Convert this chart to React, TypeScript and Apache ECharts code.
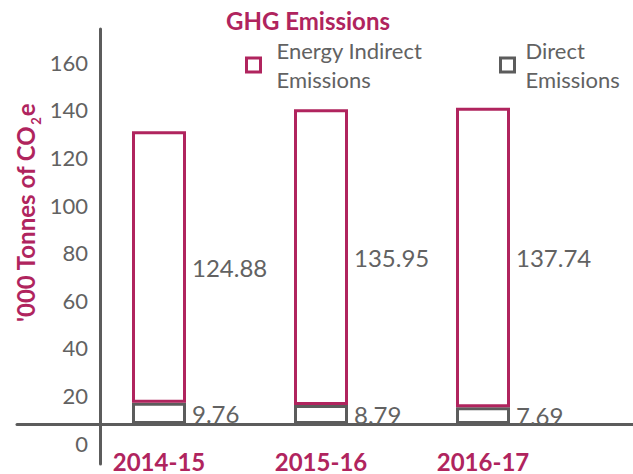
import React, { useEffect, useRef } from "react";
import * as echarts from "echarts";

const categories = ["2014-15", "2015-16", "2016-17"];
const directValues = [9.76, 8.79, 7.69];
const energyIndirectValues = [124.88, 135.95, 137.74];
const yTickLabels = [0, 20, 40, 60, 80, 100, 120, 140, 160];
const seriesNames = ["Energy Indirect Emissions", "Direct Emissions"];

const CRIMSON = "#B0245E";
const GRAY = "#5c5c5c";
const TEXT_GRAY = "#626262";
const FONT = "Lato, 'Open Sans', sans-serif";

export default function App() {
  const ref = useRef<HTMLDivElement>(null);

  useEffect(() => {
    if (!ref.current) return;
    const chart = echarts.init(ref.current, null, { renderer: "svg" });
    const option: any = {
      animation: false,
      backgroundColor: "#ffffff",
      textStyle: { fontFamily: FONT },
      title: {
        text: "GHG Emissions",
        left: 226,
        top: 8,
        padding: 0,
        textStyle: { color: CRIMSON, fontSize: 24, fontWeight: "bold", fontFamily: FONT },
      },
      legend: [
        {
          left: 245,
          top: 36,
          padding: 0,
          itemWidth: 14,
          itemHeight: 14,
          icon: "rect",
          data: [
            {
              name: seriesNames[0],
              itemStyle: { color: "#ffffff", borderColor: CRIMSON, borderWidth: 3 },
            },
          ],
          formatter: () => "Energy Indirect\nEmissions",
          textStyle: {
            color: TEXT_GRAY,
            fontSize: 22,
            lineHeight: 29,
            fontFamily: FONT,
            padding: [0, 0, 0, 11],
          },
        },
        {
          left: 499,
          top: 36,
          padding: 0,
          itemWidth: 14,
          itemHeight: 14,
          icon: "rect",
          data: [
            {
              name: seriesNames[1],
              itemStyle: { color: "#ffffff", borderColor: GRAY, borderWidth: 3 },
            },
          ],
          formatter: () => "Direct\nEmissions",
          textStyle: {
            color: TEXT_GRAY,
            fontSize: 22,
            lineHeight: 29,
            fontFamily: FONT,
            padding: [0, 0, 0, 6],
          },
        },
      ],
      grid: [
        { left: 78, width: 486, top: 29, bottom: 10, outerBoundsMode: "none", containLabel: false },
        { left: 17, right: 0, top: 0, bottom: 50, outerBoundsMode: "none", containLabel: false },
      ],
      xAxis: [
        {
          type: "category",
          gridIndex: 0,
          position: "bottom",
          data: categories,
          axisLine: { show: false, onZero: false },
          axisTick: { show: false },
          axisLabel: {
            color: CRIMSON,
            fontSize: 24,
            lineHeight: 22,
            fontWeight: "bold",
            fontFamily: FONT,
            margin: -14,
          },
        },
        {
          type: "category",
          gridIndex: 1,
          data: [""],
          axisLine: { show: true, onZero: false, lineStyle: { color: GRAY, width: 3 } },
          axisTick: { show: false },
          axisLabel: { show: false },
        },
      ],
      yAxis: [
        {
          type: "value",
          gridIndex: 0,
          position: "left",
          offset: -22,
          min: -8.8,
          max: 174,
          splitLine: { show: false },
          axisTick: { show: false },
          axisLine: { show: true, lineStyle: { color: GRAY, width: 3 } },
          axisLabel: {
            customValues: yTickLabels,
            color: TEXT_GRAY,
            fontSize: 22,
            fontFamily: FONT,
            margin: 12,
          },
        },
        {
          type: "value",
          gridIndex: 0,
          position: "right",
          show: false,
          min: -18.4,
          max: 181.7,
          splitLine: { show: false },
        },
        {
          type: "value",
          gridIndex: 1,
          show: false,
          splitLine: { show: false },
        },
      ],
      graphic: [
        {
          type: "text",
          x: 26,
          y: 213,
          rotation: Math.PI / 2,
          style: {
            text: "{a|'000 Tonnes of CO}{s|2}{a|e}",
            align: "center",
            verticalAlign: "middle",
            rich: {
              a: {
                fontSize: 24,
                fontWeight: "bold",
                fill: CRIMSON,
                color: CRIMSON,
                fontFamily: FONT,
                lineHeight: 25,
                verticalAlign: "top",
              },
              s: {
                fontSize: 13,
                fontWeight: "bold",
                fill: CRIMSON,
                color: CRIMSON,
                fontFamily: FONT,
                lineHeight: 13,
                padding: [16, 1, 0, 1],
                verticalAlign: "top",
              },
            },
          },
        },
      ],
      series: [
        {
          name: seriesNames[1],
          type: "bar",
          stack: "total",
          xAxisIndex: 0,
          yAxisIndex: 1,
          barWidth: 54,
          data: directValues,
          itemStyle: { color: "#ffffff", borderColor: GRAY, borderWidth: 3 },
          label: {
            show: true,
            position: "right",
            distance: 6,
            color: TEXT_GRAY,
            fontSize: 24,
            fontFamily: FONT,
          },
        },
        {
          name: seriesNames[0],
          type: "bar",
          stack: "total",
          xAxisIndex: 0,
          yAxisIndex: 1,
          barWidth: 54,
          data: energyIndirectValues,
          itemStyle: { color: "#ffffff", borderColor: CRIMSON, borderWidth: 3 },
          label: {
            show: true,
            position: "right",
            distance: 6,
            color: TEXT_GRAY,
            fontSize: 24,
            fontFamily: FONT,
          },
        },
      ],
    };
    chart.setOption(option);
    return () => chart.dispose();
  }, []);

  return (
    <div
      ref={ref}
      style={{ position: "fixed", left: 0, top: 0, width: 633, height: 474 }}
    />
  );
}
